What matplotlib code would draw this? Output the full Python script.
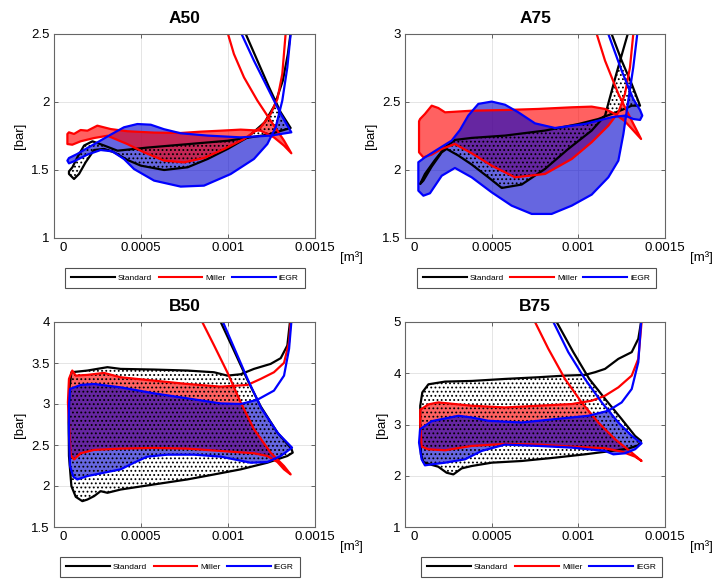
import numpy as np
import matplotlib
matplotlib.use("Agg")
import matplotlib.pyplot as plt
from matplotlib.lines import Line2D
from matplotlib.patches import Polygon
from matplotlib.transforms import ScaledTranslation

plt.rcParams["font.family"] = ["Liberation Sans", "DejaVu Sans"]
plt.rcParams["hatch.linewidth"] = 0.8

# Volume in 1e-4 m^3, pressure in bar.
# Each curve runs: expansion line -> exhaust stroke -> intake stroke -> compression line.

# ---- A50 ----
A50_std_V = [10.82, 11.02, 11.69, 12.36, 13.03, 13.6,
             12.29, 9.98, 7.68, 5.38, 3.65, 2.88, 2.21, 1.73, 1.34, 1.06, 0.86,
             0.86, 1.15, 1.44, 1.82, 2.3, 2.88, 3.45, 4.22, 4.99, 6.33, 7.68, 8.83,
             9.98, 11.13, 12.1, 12.67, 13.15, 13.44, 13.59, 13.63]
A50_std_p = [2.574, 2.5, 2.304, 2.108, 1.924, 1.809,
             1.76, 1.715, 1.69, 1.665, 1.642, 1.68, 1.711, 1.68, 1.593, 1.52, 1.49,
             1.471, 1.434, 1.471, 1.557, 1.647, 1.655, 1.63, 1.574, 1.532, 1.5, 1.52, 1.581,
             1.655, 1.74, 1.85, 1.973, 2.157, 2.353, 2.5, 2.574]
A50_mil_V = [9.87, 10.0, 10.34, 10.92, 11.69, 12.45, 13.22, 13.64,
             13.22, 12.64, 11.88, 10.73, 9.58, 8.43, 7.28, 5.75, 4.21, 3.26, 2.49, 1.92,
             1.53, 1.15, 0.86, 0.77,
             0.77, 1.05, 1.53, 2.3, 3.07, 4.21, 5.17, 6.32, 7.47, 8.62, 9.77, 10.92,
             11.88, 12.45, 12.84, 13.12, 13.31, 13.35]
A50_mil_p = [2.574, 2.5, 2.353, 2.181, 2.01, 1.863, 1.716, 1.623,
             1.679, 1.74, 1.789, 1.797, 1.789, 1.782, 1.772, 1.775, 1.785, 1.801, 1.826, 1.789,
             1.794, 1.765, 1.777, 1.765,
             1.691, 1.686, 1.711, 1.735, 1.752, 1.691, 1.63, 1.569, 1.556, 1.588, 1.654, 1.728,
             1.814, 1.912, 2.022, 2.206, 2.5, 2.574]
A50_egr_V = [10.63, 10.78, 11.49, 12.26, 13.03, 13.64,
             12.45, 10.73, 8.81, 7.28, 6.32, 5.56, 4.79, 4.02, 3.26, 2.49, 1.92, 1.34, 0.86, 0.77,
             0.86, 1.15, 1.92, 2.68, 3.35, 4.02, 4.6, 5.75, 7.28, 8.62, 10.15, 11.49,
             12.26, 12.74, 13.12, 13.41, 13.6, 13.64]
A50_egr_p = [2.574, 2.5, 2.304, 2.108, 1.912, 1.777,
             1.753, 1.74, 1.753, 1.77, 1.8, 1.833, 1.838, 1.814, 1.76, 1.703, 1.662, 1.618, 1.588, 1.569,
             1.549, 1.564, 1.613, 1.647, 1.637, 1.581, 1.507, 1.422, 1.378, 1.385, 1.47, 1.581,
             1.691, 1.814, 2.01, 2.255, 2.5, 2.574]

# ---- A75 ----
A75_std_V = [11.73, 11.92, 12.5, 13.08, 13.56,
             13.08, 12.5, 11.92, 11.15, 10.0, 8.08, 5.77, 3.85, 2.88, 2.31, 1.73, 1.15, 0.87,
             1.06, 1.54, 2.12, 2.4, 3.08, 3.85, 4.81, 5.58, 6.73, 8.08, 9.42, 10.77,
             11.54, 12.19, 12.85, 13.0]
A75_std_p = [3.074, 3.0, 2.804, 2.632, 2.473,
             2.473, 2.441, 2.412, 2.375, 2.338, 2.29, 2.253, 2.236, 2.221, 2.167, 2.074, 1.971, 1.897,
             1.922, 2.025, 2.13, 2.155, 2.106, 2.04, 1.946, 1.868, 1.893, 2.008, 2.155, 2.29,
             2.4, 2.706, 3.0, 3.074]
A75_mil_V = [10.92, 11.06, 11.54, 12.31, 13.08, 13.62,
             13.27, 12.69, 12.12, 11.54, 10.77, 9.62, 7.69, 5.77, 3.85, 2.31, 1.92, 1.54, 1.15,
             0.87, 0.81,
             0.81, 1.06, 1.54, 2.12, 2.88, 3.85, 5.0, 6.35, 8.08, 9.62, 10.77, 11.73,
             12.31, 12.69, 12.98, 13.17, 13.23]
A75_mil_p = [3.074, 3.0, 2.804, 2.559, 2.363, 2.228,
             2.277, 2.358, 2.412, 2.449, 2.466, 2.461, 2.449, 2.441, 2.436, 2.424, 2.456, 2.473, 2.412,
             2.375, 2.358,
             2.13, 2.093, 2.113, 2.155, 2.191, 2.123, 2.032, 1.946, 1.971, 2.081, 2.204, 2.326,
             2.424, 2.559, 2.755, 3.0, 3.074]
A75_egr_V = [11.6, 11.73, 12.5, 13.17, 13.56,
             13.69, 13.56, 13.17, 12.69, 11.92, 10.38, 8.65, 7.5, 6.54, 5.77, 5.0, 4.23, 3.65,
             3.17, 2.69, 1.92, 1.15, 0.77,
             0.77, 1.06, 1.44, 2.12, 2.88, 3.85, 5.0, 6.15, 7.31, 8.46, 9.62, 10.77,
             11.73, 12.31, 12.6, 12.88, 13.17, 13.4, 13.46]
A75_egr_p = [3.074, 3.0, 2.73, 2.522, 2.441,
             2.4, 2.368, 2.375, 2.4, 2.388, 2.338, 2.309, 2.343, 2.424, 2.48, 2.503, 2.486, 2.4,
             2.294, 2.216, 2.155, 2.093, 2.057,
             1.848, 1.811, 1.829, 1.958, 2.015, 1.946, 1.836, 1.738, 1.677, 1.677, 1.738, 1.819,
             1.946, 2.069, 2.265, 2.51, 2.755, 3.0, 3.074]

# ---- B50 ----
B50_std_V = [9.39, 9.58, 10.34, 11.11, 11.88, 12.84, 13.64,
             13.72, 13.41, 12.26, 10.73, 9.2, 7.66, 5.75, 3.83, 3.07, 2.68, 2.3, 1.92, 1.63,
             1.25, 1.0, 0.86, 0.84, 0.88, 1.0,
             1.92, 3.07, 3.83, 5.75, 7.66, 9.2, 9.96, 10.73, 11.49, 12.45, 13.03, 13.41,
             13.56, 13.58]
B50_std_p = [4.123, 4.0, 3.653, 3.297, 2.971, 2.652, 2.456,
             2.407, 2.366, 2.284, 2.203, 2.141, 2.08, 2.019, 1.957, 1.917, 1.937, 1.876, 1.835, 1.815,
             1.868, 1.998, 2.366, 2.774, 3.183, 3.387,
             3.408, 3.449, 3.428, 3.42, 3.408, 3.387, 3.346, 3.363, 3.428, 3.489, 3.559, 3.714,
             4.0, 4.123]
B50_mil_V = [8.33, 8.52, 9.2, 9.96, 10.73, 11.49, 12.45, 13.22, 13.6,
             13.22, 12.84, 12.26, 11.49, 9.58, 7.66, 5.75, 3.83, 2.3, 1.53, 1.15, 0.96, 0.86, 0.8,
             0.86, 1.05, 1.25, 1.92, 2.87, 3.83, 5.75, 7.66, 9.58, 11.11, 11.88, 12.64, 13.22,
             13.51, 13.6, 13.62]
B50_mil_p = [4.123, 4.0, 3.714, 3.387, 3.02, 2.693, 2.407, 2.243, 2.141,
             2.203, 2.292, 2.366, 2.399, 2.427, 2.456, 2.464, 2.456, 2.44, 2.399, 2.325, 2.374, 2.774, 3.02,
             3.306, 3.408, 3.346, 3.355, 3.379, 3.326, 3.285, 3.244, 3.212, 3.232, 3.306, 3.387, 3.502,
             3.755, 4.0, 4.123]
B50_egr_V = [9.52, 9.71, 10.44, 11.19, 11.92, 12.87, 13.68,
             13.03, 12.26, 11.3, 9.58, 8.05, 6.51, 5.36, 4.6, 3.83, 2.87, 1.92, 1.34, 1.11, 0.92,
             0.86, 0.86, 0.92,
             1.53, 2.3, 3.83, 5.75, 7.66, 9.58, 10.73, 11.69, 12.64, 13.22, 13.51, 13.64, 13.66]
B50_egr_p = [4.123, 4.0, 3.641, 3.273, 2.946, 2.644, 2.468,
             2.366, 2.292, 2.284, 2.358, 2.382, 2.382, 2.358, 2.284, 2.203, 2.162, 2.121, 2.08, 2.113, 2.243,
             2.652, 2.979, 3.183,
             3.232, 3.244, 3.203, 3.13, 3.069, 3.007, 3.0, 3.052, 3.163, 3.346, 3.673, 4.0, 4.123]

# ---- B75 ----
B75_std_V = [8.46, 8.75, 9.71, 10.63, 11.58, 12.5, 13.27, 13.62,
             13.46, 12.88, 11.92, 10.38, 8.65, 6.73, 5.0, 3.85, 3.27, 2.79, 2.4, 1.92, 1.44, 1.06,
             0.92, 0.87, 0.88, 1.0, 1.35,
             2.31, 3.85, 5.77, 7.69, 9.23, 10.38, 10.96, 11.54, 12.31, 13.08, 13.46, 13.62, 13.63]
B75_std_p = [5.196, 5.0, 4.412, 3.889, 3.484, 3.105, 2.778, 2.68,
             2.595, 2.529, 2.484, 2.418, 2.353, 2.288, 2.255, 2.19, 2.144, 2.026, 2.059, 2.176, 2.222, 2.268,
             2.418, 2.843, 3.366, 3.627, 3.784,
             3.837, 3.85, 3.889, 3.922, 3.954, 3.967, 4.02, 4.085, 4.281, 4.412, 4.673, 5.0, 5.196]
B75_mil_V = [7.27, 7.5, 8.27, 9.23, 10.19, 11.15, 12.12, 13.08, 13.65,
             13.27, 12.5, 11.54, 9.62, 7.69, 5.77, 3.85, 2.31, 1.35, 0.96, 0.87, 0.88,
             1.35, 1.92, 2.88, 3.85, 5.77, 7.69, 9.62, 10.77, 11.54, 12.31, 13.08, 13.46,
             13.65, 13.67]
B75_mil_p = [5.196, 5.0, 4.477, 3.889, 3.431, 3.039, 2.712, 2.451, 2.288,
             2.373, 2.471, 2.536, 2.569, 2.608, 2.621, 2.582, 2.497, 2.516, 2.569, 3.039, 3.288,
             3.392, 3.431, 3.399, 3.366, 3.333, 3.366, 3.399, 3.464, 3.562, 3.725, 3.954, 4.281,
             5.0, 5.196]
B75_egr_V = [8.31, 8.56, 9.42, 10.38, 11.35, 12.31, 13.08, 13.65,
             13.27, 12.69, 12.02, 11.54, 9.62, 7.69, 5.77, 4.42, 3.46, 2.31, 1.54, 1.15, 0.96,
             0.81, 0.87,
             1.54, 2.31, 3.08, 3.85, 4.81, 6.73, 8.65, 10.58, 11.73, 12.5, 13.08, 13.46, 13.62, 13.63]
B75_egr_p = [5.196, 5.0, 4.412, 3.889, 3.431, 3.039, 2.778, 2.634,
             2.516, 2.438, 2.418, 2.484, 2.549, 2.582, 2.608, 2.484, 2.32, 2.255, 2.222, 2.203, 2.32,
             2.647, 2.908,
             3.065, 3.118, 3.17, 3.137, 3.072, 3.039, 3.105, 3.17, 3.268, 3.431, 3.693, 4.216, 5.0, 5.196]

CASES = ["A50", "A75", "B50", "B75"]
SERIES = ["Standard", "Miller", "iEGR"]
CURVES = {
    "A50": [(A50_std_V, A50_std_p), (A50_mil_V, A50_mil_p), (A50_egr_V, A50_egr_p)],
    "A75": [(A75_std_V, A75_std_p), (A75_mil_V, A75_mil_p), (A75_egr_V, A75_egr_p)],
    "B50": [(B50_std_V, B50_std_p), (B50_mil_V, B50_mil_p), (B50_egr_V, B50_egr_p)],
    "B75": [(B75_std_V, B75_std_p), (B75_mil_V, B75_mil_p), (B75_egr_V, B75_egr_p)],
}
Y_TICKS = {
    "A50": [1, 1.5, 2, 2.5],
    "A75": [1.5, 2, 2.5, 3],
    "B50": [1.5, 2, 2.5, 3, 3.5, 4],
    "B75": [1, 2, 3, 4, 5],
}
X_TICKS = [0, 0.0005, 0.001, 0.0015]
X_TICKLABELS = ["0", "0.0005", "0.001", "0.0015"]

LINE_COLORS = ["black", "red", "blue"]
FILL_COLORS = [None, (1.0, 0.0, 0.0), (0.0, 0.0, 0.8)]
FILL_ALPHA = [0.0, 0.62, 0.6]

# panel frame in pixels: left, top, right, bottom
FRAMES = {
    "A50": (54, 34, 315, 238),
    "A75": (405, 34, 665, 238),
    "B50": (54, 322, 315, 527),
    "B75": (405, 322, 665, 527),
}
LEGEND_BOX = {"A50": (0.042, 0.92), "A75": (0.046, 0.92),
              "B50": (0.023, 0.92), "B75": (0.062, 0.927)}


def loop_polygon(V, p):
    """
    Closed pumping loop: cut the curve at its first self-intersection
    (expansion line crossing the intake/compression branch).
    """
    pts = np.column_stack([V, p])
    n = len(pts)
    for k in range(n - 1):
        a, b = pts[k], pts[k + 1]
        r = b - a
        for m in range(n - 2, k + 1, -1):
            c, d = pts[m], pts[m + 1]
            s = d - c
            den = r[0] * s[1] - r[1] * s[0]
            if den == 0:
                continue
            q = c - a
            t = (q[0] * s[1] - q[1] * s[0]) / den
            u = (q[0] * r[1] - q[1] * r[0]) / den
            if 0 <= t <= 1 and 0 <= u <= 1:
                x = a + t * r
                return np.vstack([x, pts[k + 1:m + 1], x])
    return pts


def draw_case(fig, case):
    l, t, r, b = FRAMES[case]
    ax = fig.add_axes([l / 720, 1 - b / 580, (r - l) / 720, (b - t) / 580])

    red_on_top = case == "A50"
    fill_z = {1: 1.3 if red_on_top else 1.2, 2: 1.2 if red_on_top else 1.3}

    for i, (V, p) in enumerate(CURVES[case]):
        V = np.asarray(V) * 1e-4
        p = np.asarray(p)
        loop = loop_polygon(V, p)
        if i == 0:
            ax.add_patch(Polygon(loop, closed=True, facecolor="none",
                                 edgecolor="k", linewidth=0, hatch="....",
                                 zorder=1.6))
        else:
            ax.add_patch(Polygon(loop, closed=True, facecolor=FILL_COLORS[i],
                                 alpha=FILL_ALPHA[i], linewidth=0,
                                 zorder=fill_z[i]))
        ax.plot(V, p, color=LINE_COLORS[i], lw=1.6, zorder=2.5)

    yt = Y_TICKS[case]
    ax.set_xlim(0, 0.0015)
    ax.set_ylim(yt[0], yt[-1])
    ax.set_xticks(X_TICKS)
    ax.set_xticklabels(X_TICKLABELS)
    ax.set_yticks(yt)
    ax.set_yticklabels([f"{v:g}" for v in yt])
    ax.tick_params(direction="in", length=3, width=0.6, color="0.3",
                   labelsize=9.5, pad=3, top=True, right=True)
    ax.grid(True, color="0.88", lw=0.6)
    ax.set_axisbelow(True)
    for s in ax.spines.values():
        s.set_color("0.4")
        s.set_linewidth(0.8)

    # the "0" label sits a little to the right of the axis corner
    lab0 = ax.get_xticklabels()[0]
    lab0.set_transform(lab0.get_transform()
                       + ScaledTranslation(0.09, 0, fig.dpi_scale_trans))

    ax.set_title(case, fontsize=12.5, fontweight="bold", pad=8)
    ax.set_ylabel("[bar]", fontsize=9.5, labelpad=4)
    ax.text(1.095, -0.095, "[m³]", transform=ax.transAxes,
            fontsize=9.5, ha="left", va="center")

    x0, w = LEGEND_BOX[case]
    handles = [Line2D([], [], color=c, lw=1.5) for c in LINE_COLORS]
    leg = ax.legend(handles, SERIES, loc="center",
                    bbox_to_anchor=(x0, -0.246, w, 0.1), mode="expand",
                    ncol=3, fontsize=6, handlelength=5.2, handletextpad=0.4,
                    columnspacing=0.8, borderpad=0.75, frameon=True,
                    fancybox=False, edgecolor="0.15", borderaxespad=0)
    leg.get_frame().set_linewidth(0.8)
    return ax


def main():
    fig = plt.figure(figsize=(7.2, 5.8), dpi=100)
    for case in CASES:
        draw_case(fig, case)
    fig.savefig("out.png", dpi=100)


if __name__ == "__main__":
    main()
